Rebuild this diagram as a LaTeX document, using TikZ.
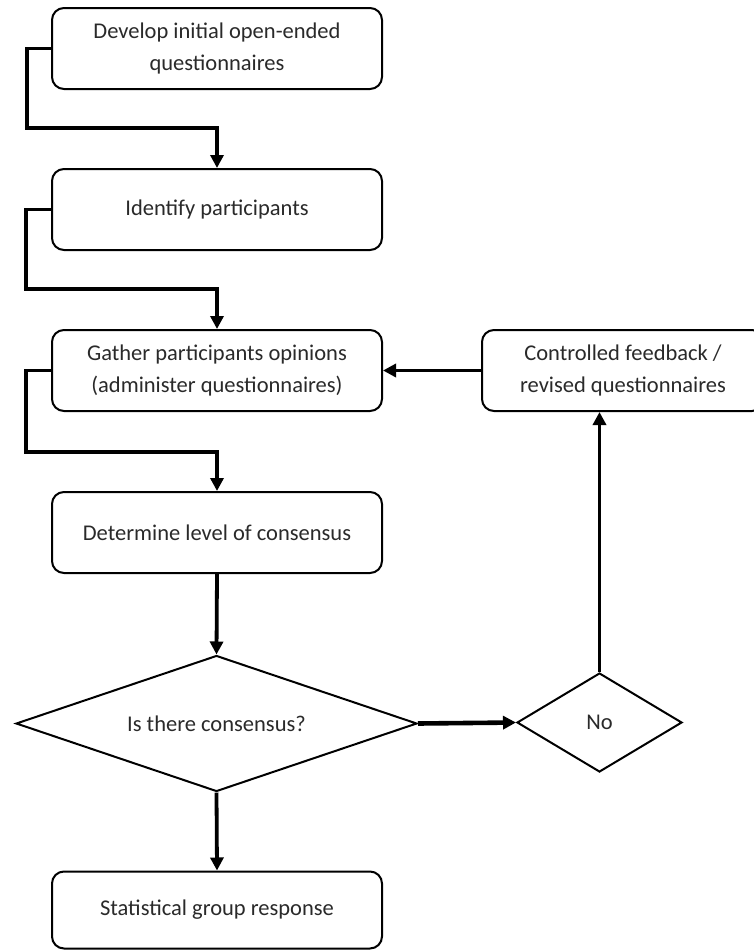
\documentclass[tikz,border=0pt]{standalone}
\usepackage{fontspec}
\setmainfont{Carlito}
\usetikzlibrary{shapes.geometric,arrows.meta}
\definecolor{txt}{HTML}{2A2A2A}
\tikzset{
  txtfont/.style={text=txt, font=\fontsize{22.5}{32}\selectfont},
  stepbox/.style={draw=black, line width=2pt, rounded corners=12pt, minimum width=330pt, minimum height=81pt, align=center, txtfont, inner sep=0pt},
  decide/.style={draw=black, line width=2pt, shape=diamond, inner sep=0pt},
  conn/.style={line width=3.8pt, -{Triangle[length=13pt,width=13pt]}},
}
\begin{document}
\begin{tikzpicture}[x=1pt,y=-1pt]
\clip (0,0) rectangle (754,951);
\fill[white] (0,0) rectangle (754,951);
\node[stepbox] (b1) at (217,48.5) {Develop initial open-ended\\questionnaires};
\node[stepbox] (b2) at (217,209.5) {Identify participants};
\node[stepbox] (b3) at (217,370.5) {Gather participants opinions\\(administer questionnaires)};
\node[stepbox] (b4) at (217,532.5) {Determine level of consensus};
\node[decide, minimum width=401pt, minimum height=136pt] (d1) at (216.5,723.5) {};
\node[txtfont] (d1t) at (d1.center) {Is there consensus?};
\node[decide, minimum width=165pt, minimum height=99pt] (no) at (599.5,722.5) {};
\node[txtfont] (not) at (no.center) {No};
\node[stepbox, minimum width=282pt, minimum height=81pt] (fb) at (623,370.5) {Controlled feedback /\\revised questionnaires};
\node[stepbox, minimum height=77pt] (b5) at (217,910) {Statistical group response};
\coordinate (c1) at (27,128);
\coordinate (c2) at (26,289);
\coordinate (c3) at (26,452);
\draw[conn] (b1.west) -| (c1) -| (b2.north);
\draw[conn] (b2.west) -| (c2) -| (b3.north);
\draw[conn] (b3.west) -| (c3) -| (b4.north);
\draw[conn] (b4.south) -- (d1.north);
\draw[conn] (d1.south) -- (b5.north);
\draw[conn, line width=4.6pt] (d1.east) -- (no.west);
\draw[conn] (no.north) -- (no.north |- fb.south);
\draw[conn] (fb.west) -- (b3.east);
\end{tikzpicture}
\end{document}
